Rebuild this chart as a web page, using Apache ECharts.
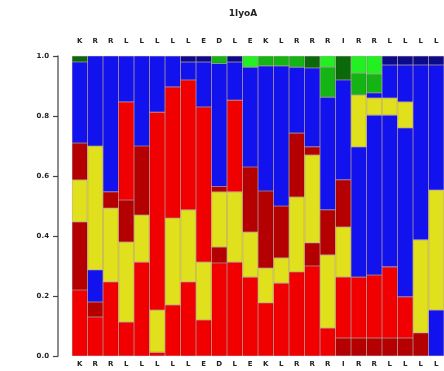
<!DOCTYPE html>
<html>
<head>
<meta charset="utf-8">
<script src="https://cdn.jsdelivr.net/npm/echarts@6/dist/echarts.min.js"></script>
<style>
html,body{margin:0;padding:0;background:#fff;}
#chart{width:444px;height:371px;}
</style>
</head>
<body>
<div id="chart"></div>
<script>
// ---- data ----
const TITLE = '1lyoA';
const residues = ['K','R','R','L','L','L','L','L','E','D','L','E','K','L','R','R','R','I','R','R','L','L','L','L'];
const yTicks = [0, 0.2, 0.4, 0.6, 0.8, 1.0];
// per column: segments bottom->top as [class, cumulative top value]
const col00 = [['R',0.22],['D',0.447],['Y',0.587],['D',0.71],['B',0.98],['g',1.0]];
const col01 = [['R',0.13],['D',0.18],['B',0.287],['Y',0.70],['B',1.0]];
const col02 = [['R',0.247],['Y',0.493],['D',0.547],['B',1.0]];
const col03 = [['R',0.113],['Y',0.38],['D',0.52],['R',0.847],['B',1.0]];
const col04 = [['R',0.313],['Y',0.47],['D',0.70],['B',1.0]];
const col05 = [['R',0.012],['Y',0.153],['R',0.813],['B',1.0]];
const col06 = [['R',0.17],['Y',0.46],['R',0.897],['B',1.0]];
const col07 = [['R',0.247],['Y',0.487],['R',0.92],['B',0.98],['N',1.0]];
const col08 = [['R',0.12],['Y',0.313],['R',0.83],['B',0.98],['N',1.0]];
const col09 = [['R',0.31],['D',0.363],['Y',0.547],['D',0.565],['B',0.975],['M',1.0]];
const col10 = [['R',0.313],['Y',0.547],['R',0.853],['B',0.98],['N',1.0]];
const col11 = [['R',0.263],['Y',0.413],['D',0.63],['B',0.963],['G',1.0]];
const col12 = [['R',0.177],['Y',0.293],['D',0.55],['B',0.967],['M',1.0]];
const col13 = [['R',0.243],['Y',0.327],['D',0.50],['B',0.967],['M',1.0]];
const col14 = [['R',0.28],['Y',0.53],['D',0.743],['B',0.963],['M',1.0]];
const col15 = [['R',0.30],['D',0.377],['Y',0.67],['D',0.697],['B',0.96],['g',1.0]];
const col16 = [['R',0.093],['Y',0.337],['D',0.487],['B',0.863],['M',0.963],['G',1.0]];
const col17 = [['D',0.06],['R',0.263],['Y',0.43],['D',0.587],['B',0.92],['g',1.0]];
const col18 = [['D',0.06],['R',0.263],['B',0.697],['Y',0.87],['M',0.943],['G',1.0]];
const col19 = [['D',0.06],['R',0.27],['B',0.803],['Y',0.86],['B',0.877],['M',0.94],['G',1.0]];
const col20 = [['D',0.06],['R',0.297],['B',0.803],['Y',0.86],['B',0.97],['N',1.0]];
const col21 = [['D',0.06],['R',0.197],['B',0.76],['Y',0.847],['B',0.97],['N',1.0]];
const col22 = [['D',0.077],['Y',0.387],['B',0.97],['N',1.0]];
const col23 = [['B',0.153],['Y',0.553],['B',0.97],['N',1.0]];
const columns = [col00,col01,col02,col03,col04,col05,col06,col07,col08,col09,col10,col11,
                 col12,col13,col14,col15,col16,col17,col18,col19,col20,col21,col22,col23];

// ---- styles ----
const COLORS = {R:'#f00000', D:'#b40000', Y:'#e0e01c', B:'#1212ee', G:'#22f022', M:'#14b414', g:'#0a6a0a', N:'#0a0a8a'};

const maxSeg = Math.max(...columns.map(c => c.length));
const series = [];
for (let k = 0; k < maxSeg; k++) {
  series.push({
    type: 'bar',
    stack: 'all',
    barCategoryGap: '0%',
    barGap: '0%',
    animation: false,
    itemStyle: {borderColor: 'rgba(60,0,0,0.3)', borderWidth: 0.6},
    data: columns.map(c => {
      if (k >= c.length) return '-';
      const prev = k === 0 ? 0 : c[k-1][1];
      return {value: +(c[k][1] - prev).toFixed(4), itemStyle: {color: COLORS[c[k][0]]}};
    })
  });
}

const labelStyle = {fontSize: 7, fontWeight: 'bold', color: '#222', fontFamily: 'DejaVu Sans'};
const chart = echarts.init(document.getElementById('chart'), null, {renderer: 'canvas'});
chart.setOption({
  animation: false,
  backgroundColor: '#fff',
  title: {text: TITLE, left: 238, top: 4, textAlign: 'center',
          textStyle: {fontSize: 9, fontWeight: 'bold', color: '#222', fontFamily: 'DejaVu Sans'}},
  grid: {left: 72, right: -8, top: 56, bottom: 15, containLabel: false},
  xAxis: [
    {type: 'category', data: residues, position: 'bottom', axisLine: {show: false}, axisTick: {show: false},
     axisLabel: Object.assign({margin: 5, interval: 0}, labelStyle)},
    {type: 'category', data: residues, position: 'top', axisLine: {show: false}, axisTick: {show: false},
     axisLabel: Object.assign({margin: 11, interval: 0}, labelStyle)}
  ],
  yAxis: {
    type: 'value', min: yTicks[0], max: yTicks[yTicks.length-1], interval: 0.2, offset: 14,
    axisLine: {show: true, lineStyle: {color: '#666', width: 1.5}},
    axisTick: {show: true, length: 5, lineStyle: {color: '#444', width: 1.2}},
    splitLine: {show: false},
    axisLabel: Object.assign({margin: 9, formatter: v => v.toFixed(1)}, labelStyle)
  },
  series: series
});
</script>
</body>
</html>
